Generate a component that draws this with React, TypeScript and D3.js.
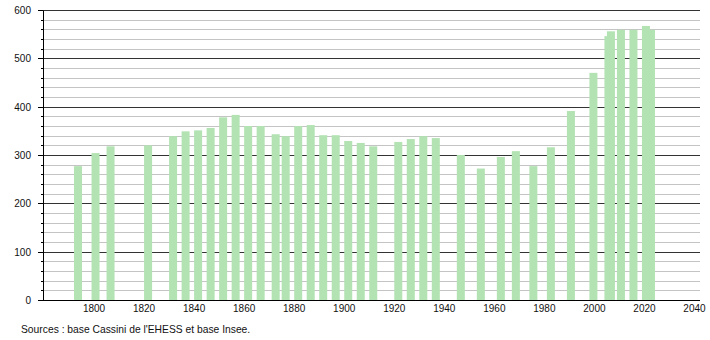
import React from "react";
import * as d3 from "d3";

const years = [
  1793, 1800, 1806, 1821, 1831, 1836, 1841, 1846, 1851, 1856, 1861, 1866, 1872,
  1876, 1881, 1886, 1891, 1896, 1901, 1906, 1911, 1921, 1926, 1931, 1936, 1946,
  1954, 1962, 1968, 1975, 1982, 1990, 1999, 2005, 2006, 2010, 2015, 2020, 2022,
];
const population = [
  278, 305, 319, 321, 340, 350, 352, 357, 379, 384, 361, 361, 344, 340, 361,
  363, 342, 342, 330, 326, 319, 328, 334, 340, 336, 301, 273, 297, 309, 278,
  317, 392, 471, 547, 557, 560, 560, 568, 560,
];
const xTicks = [1800, 1820, 1840, 1860, 1880, 1900, 1920, 1940, 1960, 1980, 2000, 2020, 2040];
const yMajor = [0, 100, 200, 300, 400, 500, 600];
const source = "Sources : base Cassini de l'EHESS et base Insee.";

const W = 710;
const H = 340;
const left = 43;
const right = 700;
const font = "'Liberation Sans', Arial, Helvetica, sans-serif";

export default function App() {
  const x = d3.scaleLinear().domain([1780, 2042]).range([44, 699.5]);
  const y = d3.scaleLinear().domain([0, 600]).range([300.5, 10.5]);
  const minor = d3.range(0, 601, 20).filter((v) => v % 100 !== 0);
  const crisp = (v: number) => Math.round(y(v) - 0.5) + 0.5;

  return (
    <svg
      width={W}
      height={H}
      style={{ position: "absolute", left: 0, top: 0, background: "#fff" }}
      fontFamily={font}
    >
      <rect x={0} y={0} width={W} height={H} fill="#fff" />
      {minor.map((v) => (
        <g key={"m" + v}>
          <line x1={left} x2={right} y1={crisp(v)} y2={crisp(v)} stroke="#c4c4c4" strokeWidth={1} />
          <line x1={left - 2} x2={left} y1={crisp(v)} y2={crisp(v)} stroke="#000" strokeWidth={1} />
        </g>
      ))}
      {yMajor.map((v) => (
        <g key={"M" + v}>
          <line x1={left} x2={right} y1={crisp(v)} y2={crisp(v)} stroke="#333" strokeWidth={1} />
          <line x1={left - 5} x2={left} y1={crisp(v)} y2={crisp(v)} stroke="#000" strokeWidth={1} />
          <text x={31} y={crisp(v)} dy="0.35em" textAnchor="end" fontSize={10} fill="#111">
            {v}
          </text>
        </g>
      ))}
      {years.map((yr, i) => (
        <rect
          key={yr}
          x={x(yr) - 2.5}
          y={y(population[i])}
          width={8}
          height={y(0) - 0.5 - y(population[i])}
          fill="#b3e3b3"
        />
      ))}
      <line x1={left} x2={right} y1={300.5} y2={300.5} stroke="#000" strokeWidth={1} />
      <line x1={43.5} x2={43.5} y1={10.5} y2={300.5} stroke="#000" strokeWidth={1} />
      {xTicks.map((t) => (
        <text key={t} x={x(t)} y={311.5} textAnchor="middle" fontSize={10} fill="#111">
          {t}
        </text>
      ))}
      <text x={21} y={333} fontSize={10.3} fill="#111">
        {source}
      </text>
    </svg>
  );
}
